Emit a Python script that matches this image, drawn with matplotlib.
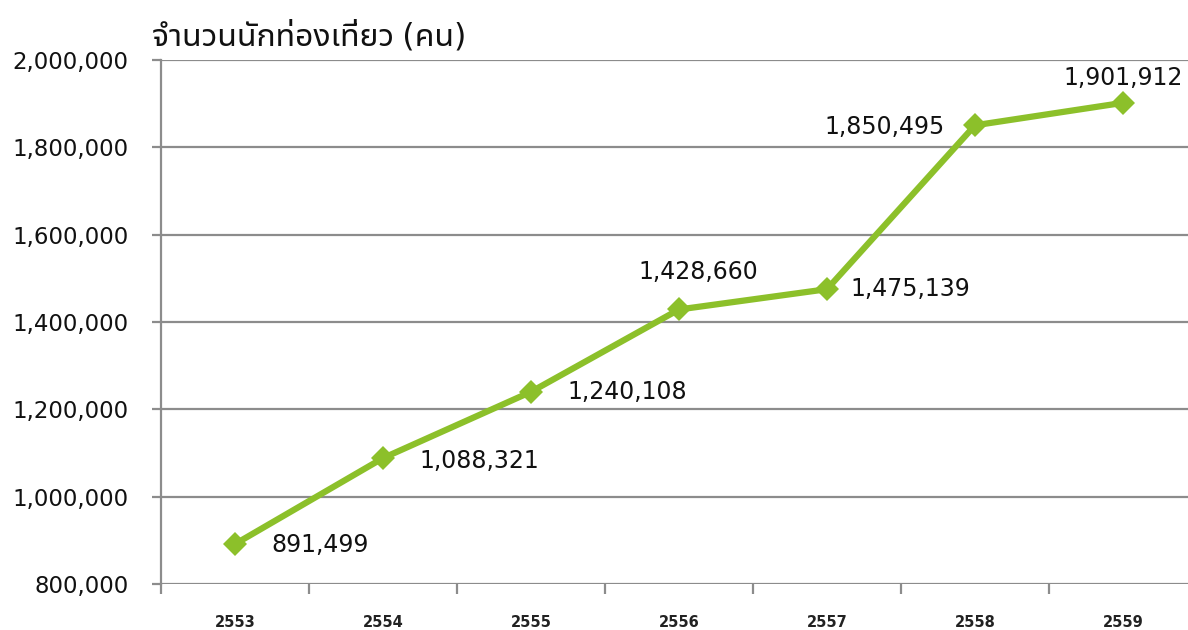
import matplotlib
matplotlib.use('Agg')
import matplotlib.pyplot as plt
import numpy as np

# data
years = ['2553', '2554', '2555', '2556', '2557', '2558', '2559']
tourists = [891499, 1088321, 1240108, 1428660, 1475139, 1850495, 1901912]
y_ticks = [800000, 1000000, 1200000, 1400000, 1600000, 1800000, 2000000]
y_label = 'จำนวนนักท่องเที่ยว (คน)'

# where each value label sits relative to its point (dx, dy in points, ha, va)
label_pos = [(26, -1, 'left', 'center'),
             (26, -2, 'left', 'center'),
             (26, 0, 'left', 'center'),
             (14, 18, 'center', 'bottom'),
             (17, 0, 'left', 'center'),
             (-22, -1, 'right', 'center'),
             (0, 9, 'center', 'bottom')]

green = '#8cc02a'
grid_grey = '#8c8c8c'
num_font = ['DejaVu Sans']

fig = plt.figure(figsize=(11.88, 6.3), dpi=100)
ax = fig.add_axes([161 / 1188, 46 / 630, 1036 / 1188, 524 / 630])

x = np.arange(len(years))
ax.plot(x, tourists, color=green, lw=4.5, marker='D', ms=12, mew=0,
        zorder=3, clip_on=False)

for xi, v, (dx, dy, ha, va) in zip(x, tourists, label_pos):
    ax.annotate('{:,}'.format(v), (xi, v), xytext=(dx, dy),
                textcoords='offset points', ha=ha, va=va,
                fontsize=17, family=num_font, color='#111111')

ax.set_xlim(-0.5, len(years) - 0.5)
ax.set_ylim(800000, 2000000)
ax.set_yticks(y_ticks)
ax.set_yticklabels(['{:,}'.format(t) for t in y_ticks],
                   fontsize=16.5, family=num_font, color='#111111')
ax.yaxis.grid(True, color=grid_grey, lw=1.6)
ax.set_axisbelow(True)

# tick marks between categories, labels centred on them
ax.set_xticks(np.arange(len(years) + 1) - 0.5)
ax.set_xticklabels([])
ax.set_xticks(x, minor=True)
ax.set_xticklabels(years, minor=True, fontsize=10.5, fontweight='bold',
                   color='#222222')
ax.tick_params(axis='x', which='major', length=7.5, width=1.6,
               color=grid_grey, direction='out')
ax.tick_params(axis='x', which='minor', length=0, pad=22)
ax.tick_params(axis='y', length=6.5, width=1.6, color=grid_grey, pad=17)

for s in ['top', 'right', 'bottom']:
    ax.spines[s].set_visible(False)
ax.spines['left'].set_color(grid_grey)
ax.spines['left'].set_linewidth(1.6)

fig.text(152 / 1188, 1 - 46 / 630, y_label, fontsize=23,
         family=['Noto Sans Thai UI', 'DejaVu Sans'], color='#111111',
         va='baseline', ha='left')

fig.savefig('out.png', dpi=100)
